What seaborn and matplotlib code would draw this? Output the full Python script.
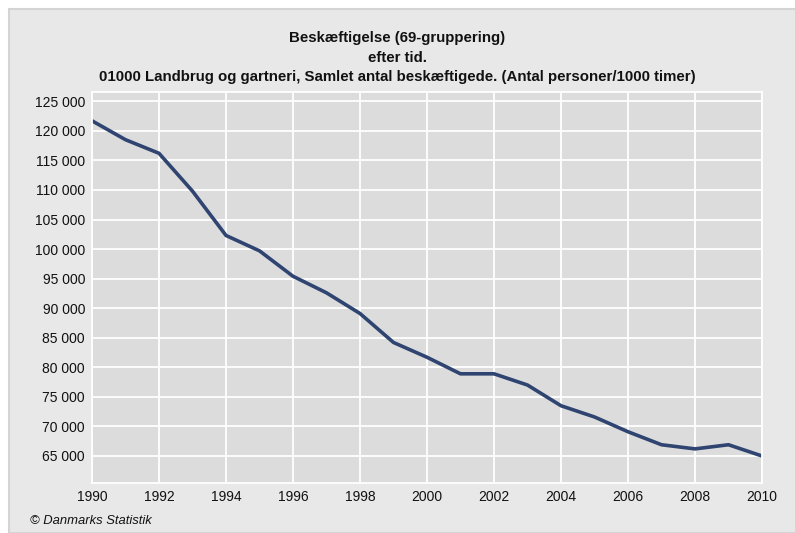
import matplotlib
matplotlib.use("Agg")
import matplotlib.pyplot as plt
from matplotlib.patches import Rectangle
from matplotlib.ticker import FuncFormatter, MultipleLocator
import pandas as pd
import seaborn as sns

# data
years = list(range(1990, 2011))
employed = [121700, 118500, 116200, 109800, 102300, 99700, 95400, 92600,
            89100, 84200, 81700, 78900, 78900, 77000, 73500, 71600,
            69100, 66900, 66200, 66900, 65000]

title = ("Beskæftigelse (69-gruppering)\n"
         "efter tid.\n"
         "01000 Landbrug og gartneri, Samlet antal beskæftigede. (Antal personer/1000 timer)")
footer = "© Danmarks Statistik"

df = pd.DataFrame({"year": years, "employed": employed})

sns.set_style("whitegrid", {"axes.facecolor": "#dcdcdc", "grid.color": "white",
                            "axes.edgecolor": "white"})
plt.rcParams["font.family"] = ["Liberation Sans", "DejaVu Sans"]

fig = plt.figure(figsize=(7.95, 5.33), dpi=100)
fig.patch.set_facecolor("white")
# grey panel behind everything
fig.patches.append(Rectangle((9 / 795, 0), 1, 1 - 9 / 533, transform=fig.transFigure,
                             facecolor="#e8e8e8", edgecolor="#d4d4d4", linewidth=1.5,
                             zorder=-10))

ax = fig.add_axes([92 / 795, 1 - 482.7 / 533, 670 / 795, 390.7 / 533])
sns.lineplot(data=df, x="year", y="employed", ax=ax, color="#2f4470", linewidth=2.6)

ax.set_xlim(1990, 2010)
ax.set_ylim(60480, 126570)
ax.xaxis.set_major_locator(MultipleLocator(2))
ax.set_yticks(range(65000, 125001, 5000))
ax.yaxis.set_major_formatter(FuncFormatter(lambda v, p: f"{int(v):,}".replace(",", " ")))
ax.grid(True, color="white", linewidth=1.3)
ax.tick_params(length=0, labelsize=10, colors="#111111", pad=5)
ax.set_xlabel("")
ax.set_ylabel("")
for s in ax.spines.values():
    s.set_color("white")
    s.set_linewidth(1.3)

fig.text(397 / 795, 1 - 31 / 533, title, ha="center", va="top", fontsize=10.8,
         fontweight="bold", linespacing=1.5, color="#111111")
fig.text(30 / 795, 1 - 521 / 533, footer, ha="left", va="center", fontsize=9.4,
         fontstyle="italic", color="#111111")

fig.savefig("out.png", dpi=100)
